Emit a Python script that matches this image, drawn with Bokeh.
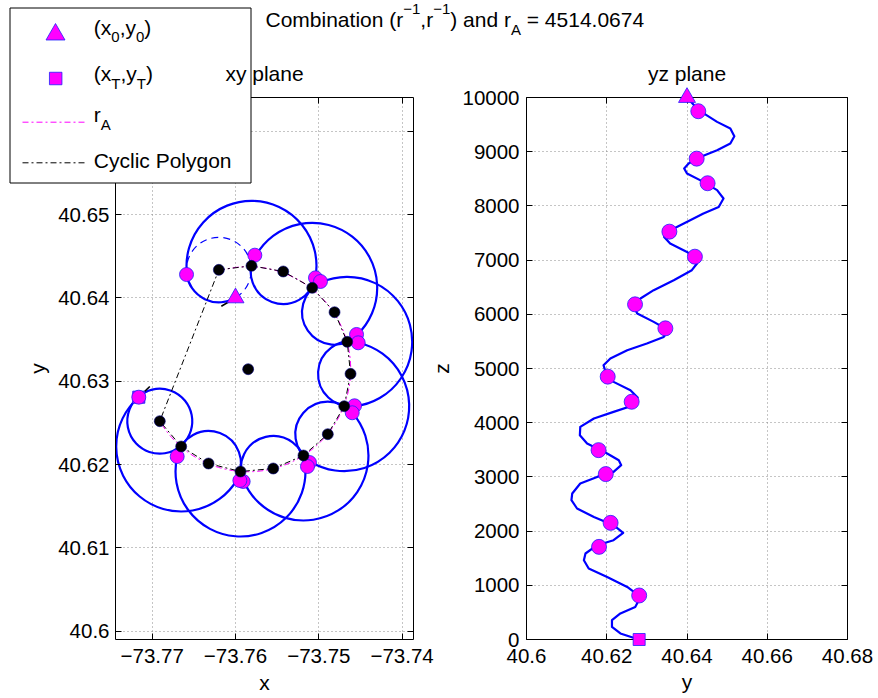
import math
from bokeh.plotting import figure
from bokeh.models import Range1d, FixedTicker, LinearAxis, Label, GridBox
from bokeh.embed import file_html
from bokeh.resources import INLINE

# ------------------------------------------------------------------ data
# cyclic polygon vertices (turn centres), xy plane
poly_lon = [-73.76200, -73.75808, -73.75427, -73.75079, -73.74811, -73.74659, -73.74619,
            -73.74695, -73.74892, -73.75184, -73.75547, -73.75940, -73.76324, -73.76652, -73.76909]
poly_lat = [40.64337, 40.64385, 40.64317, 40.64121, 40.63828, 40.63473, 40.63089,
            40.62700, 40.62364, 40.62108, 40.61952, 40.61916, 40.62012, 40.62216, 40.62520]
# centre and radius (deg) of the r_A circle
rA_lon, rA_lat, rA_radius = -73.75848, 40.63144, 0.01231
# turn radius around each polygon vertex (deg)
turn_radius = [0.0039, 0.0078] * 7 + [0.0039]
# way points (tangent points between turns)
way_lon = [-73.76588, -73.75040, -73.75768, -73.74547, -73.74980, -73.74571, -73.74527,
           -73.75112, -73.74599, -73.75908, -73.75136, -73.76700, -73.75948, -73.77161]
way_lat = [40.64281, 40.64241, 40.64513, 40.63561, 40.64197, 40.62705, 40.63461,
           40.62024, 40.62621, 40.61796, 40.61976, 40.62096, 40.61808, 40.62808]
way_alt = [9747, 8872, 8418, 7525, 7063, 6184, 5741, 4850, 4386, 3494, 3052, 2152, 1709, 812]
# start (x0,y0) and target (xT,yT)
start_lon, start_lat, start_alt = -73.7600, 40.6400, 10000
end_lon, end_lat, end_alt = -73.77161, 40.62808, 0
# heading stubs at start and target
head0_lon = [-73.7600, -73.7617]
head0_lat = [40.6400, 40.6390]
headT_lon = [-73.77161, -73.77029]
headT_lat = [40.62808, 40.62936]
# trajectory in the yz plane
traj_lat = [40.6400, 40.6429, 40.6475, 40.6508, 40.6518, 40.6508, 40.6475, 40.6433, 40.6404, 40.6393,
            40.6400, 40.6441, 40.6475, 40.6491, 40.6479, 40.6441, 40.6392, 40.6350, 40.6343, 40.6358,
            40.6400, 40.6421, 40.6425, 40.6412, 40.6367, 40.6317, 40.6284, 40.6266, 40.6276, 40.6317,
            40.6354, 40.6342, 40.6300, 40.6251, 40.6209, 40.6192, 40.6197, 40.6217, 40.6259, 40.6277,
            40.6267, 40.6217, 40.6168, 40.6134, 40.6133, 40.6151, 40.6201, 40.6230, 40.6236, 40.6217,
            40.6176, 40.6134, 40.6114, 40.6112, 40.6126, 40.6168, 40.6217, 40.6241, 40.6217, 40.6176,
            40.6147, 40.6143, 40.6155, 40.6201, 40.6251, 40.6284, 40.6271, 40.6234, 40.6213, 40.6213,
            40.6234, 40.6280]
traj_alt = [10000, 9766, 9550, 9428, 9286, 9151, 9028, 8904, 8782, 8690,
            8598, 8443, 8290, 8136, 7981, 7860, 7675, 7520, 7428, 7306,
            7151, 7029, 6937, 6814, 6629, 6445, 6291, 6168, 6015, 5860,
            5707, 5583, 5461, 5338, 5184, 5061, 4937, 4753, 4600, 4465,
            4323, 4199, 4077, 3922, 3769, 3616, 3432, 3308, 3216, 3092,
            3000, 2878, 2694, 2570, 2417, 2262, 2109, 1967, 1832, 1740,
            1587, 1463, 1310, 1155, 970, 786, 601, 480, 356, 232,
            111, 0]
# ticks
x1_ticks = [-73.77, -73.76, -73.75, -73.74]
x1_labels = ["\u221273.77", "\u221273.76", "\u221273.75", "\u221273.74"]
y1_ticks = [40.6, 40.61, 40.62, 40.63, 40.64, 40.65, 40.66]
y1_labels = ["40.6", "40.61", "40.62", "40.63", "40.64", "40.65", "40.66"]
x2_ticks = [40.6, 40.62, 40.64, 40.66, 40.68]
x2_labels = ["40.6", "40.62", "40.64", "40.66", "40.68"]
z_ticks = [0, 1000, 2000, 3000, 4000, 5000, 6000, 7000, 8000, 9000, 10000]
z_labels = [str(v) for v in z_ticks]
rA_value = "4514.0674"

# ------------------------------------------------------------------ layout / style
FONT = "Liberation Sans"
TICK_FS = 20.5
MAIN_FS = 21
SMALL_FS = 15
BASE_SHIFT = 0.38            # empirical baseline correction (fraction of font size)
MAGENTA = "#FF00FF"
EDGE = "#2020ff"
GRID = "#8a8a8a"
DASHDOT = "6 3 2 3"
W, H = 878, 698

W1 = 458                      # canvas width of the left figure
L1, FW1, TOP, FH = 115, 298, 97, 542
XR1 = (-73.774406, -73.738632)
YR1 = (40.598992, 40.664058)
L2, FW2 = 526, 321            # absolute frame left / width of the right figure
XR2 = (40.6, 40.68)
YR2 = (0, 10000)


def make_fig(xr, yr, fw, left, right):
    return figure(frame_width=fw, frame_height=FH, x_range=Range1d(*xr), y_range=Range1d(*yr),
                  min_border_left=left, min_border_right=right, min_border_top=TOP,
                  min_border_bottom=H - TOP - FH, toolbar_location=None, output_backend="svg",
                  background_fill_color="white", border_fill_color="white",
                  outline_line_color=None, frame_align=False)


def setup_axes(p, xt, xl, yt, yl, xstand, ystand):
    xtick = FixedTicker(ticks=xt, minor_ticks=[])
    ytick = FixedTicker(ticks=yt, minor_ticks=[])
    p.add_layout(LinearAxis(), "above")
    p.add_layout(LinearAxis(), "right")
    for ax in list(p.xaxis) + list(p.yaxis):
        ax.major_tick_in = 6
        ax.major_tick_out = 0
        ax.minor_tick_in = 0
        ax.minor_tick_out = 0
        ax.axis_line_color = "black"
        ax.axis_line_width = 1
        ax.major_tick_line_color = "black"
        ax.major_label_text_font = FONT
        ax.major_label_text_font_size = f"{TICK_FS}px"
        ax.major_label_text_color = "black"
    for ax in p.xaxis:
        ax.ticker = xtick
    for ax in p.yaxis:
        ax.ticker = ytick
    p.below[0].major_label_overrides = dict(zip(xt, xl))
    p.below[0].major_label_standoff = xstand
    p.left[0].major_label_overrides = dict(zip(yt, yl))
    p.left[0].major_label_standoff = ystand
    for ax, tk in ((p.above[0], xt), (p.right[0], yt)):
        ax.major_label_overrides = {t: "" for t in tk}
        ax.major_label_text_color = None
        ax.major_label_text_font_size = "1px"
        ax.major_label_standoff = 0
    p.xgrid.ticker = xtick
    p.ygrid.ticker = ytick
    for g in (p.xgrid, p.ygrid):
        g.grid_line_color = GRID
        g.grid_line_dash = "1 3"
        g.grid_line_width = 1


# ------------------------------------------------------------------ left: xy plane
p1 = make_fig(XR1, YR1, FW1, L1, W1 - L1 - FW1)
setup_axes(p1, x1_ticks, x1_labels, y1_ticks, y1_labels, 9, 6)

# turn arcs of the trajectory (clockwise, from entry point to exit point)
a_x, a_y, a_r, a_s, a_e = [], [], [], [], []
entry = [(start_lon, start_lat)] + list(zip(way_lon, way_lat))
exit_ = list(zip(way_lon, way_lat)) + [(way_lon[-1], way_lat[-1])]
for i in range(len(poly_lon)):
    cx, cy = poly_lon[i], poly_lat[i]
    s = math.atan2(entry[i][1] - cy, entry[i][0] - cx)
    e = math.atan2(exit_[i][1] - cy, exit_[i][0] - cx)
    if i == len(poly_lon) - 1:
        e = s + 1e-3
    a_x.append(cx); a_y.append(cy); a_r.append(turn_radius[i]); a_s.append(s); a_e.append(e)

# remainder of the first turn circle (dashed)
p1.arc(x=[a_x[0]], y=[a_y[0]], radius=[a_r[0]], start_angle=[a_e[0]], end_angle=[a_s[0]],
       direction="clock", line_color="blue", line_width=1.2, line_dash="7 5")
p1.arc(x=a_x, y=a_y, radius=a_r, start_angle=a_s, end_angle=a_e, direction="clock",
       line_color="blue", line_width=2.2)

# r_A circle arc
rs = math.atan2(poly_lat[0] - rA_lat, poly_lon[0] - rA_lon)
re_ = math.atan2(poly_lat[-1] - rA_lat, poly_lon[-1] - rA_lon)
p1.arc(x=[rA_lon], y=[rA_lat], radius=[rA_radius], start_angle=[rs], end_angle=[re_],
       direction="clock", line_color=MAGENTA, line_width=1, line_dash=DASHDOT)

# cyclic polygon
p1.line(poly_lon + [poly_lon[0]], poly_lat + [poly_lat[0]], line_color="black",
        line_width=1, line_dash=DASHDOT)
# heading stubs
p1.line(head0_lon, head0_lat, line_color="black", line_width=1.6)
p1.line(headT_lon, headT_lat, line_color="black", line_width=1.6)

p1.scatter([end_lon], [end_lat], marker="square", size=12, fill_color=MAGENTA, line_color=EDGE)
p1.scatter(way_lon, way_lat, marker="circle", size=14, fill_color=MAGENTA, line_color=EDGE,
           line_width=0.8)
p1.scatter(poly_lon + [rA_lon], poly_lat + [rA_lat], marker="circle", size=11,
           fill_color="black", line_color="#000080", line_width=0.6)
p1.scatter([start_lon], [start_lat], marker="triangle", size=17, fill_color=MAGENTA,
           line_color=EDGE, line_width=0.8)

# ------------------------------------------------------------------ right: yz plane
p2 = make_fig(XR2, YR2, FW2, L2 - W1, W - L2 - FW2)
setup_axes(p2, x2_ticks, x2_labels, z_ticks, z_labels, 9, 7)
p2.line(traj_lat, traj_alt, line_color="blue", line_width=2.2, line_join="round")
p2.scatter(way_lat, way_alt, marker="circle", size=15, fill_color=MAGENTA, line_color=EDGE,
           line_width=0.8)

# ------------------------------------------------------------------ overlay: texts + legend
ov = figure(frame_width=W, frame_height=H, x_range=Range1d(0, W), y_range=Range1d(H, 0),
            min_border=0, toolbar_location=None, output_backend="svg",
            x_axis_type=None, y_axis_type=None, outline_line_color=None,
            background_fill_color=None, border_fill_color=None, frame_align=False)
ov.xgrid.visible = False
ov.ygrid.visible = False
# yz-plane ranges spanning the whole overlay canvas (same scale as the right frame)
ov.extra_x_ranges = {"yz_y": Range1d(XR2[0] - L2 * (XR2[1] - XR2[0]) / FW2,
                                     XR2[0] + (W - L2) * (XR2[1] - XR2[0]) / FW2)}
ov.extra_y_ranges = {"yz_z": Range1d(YR2[1] - (H - TOP) * (YR2[1] - YR2[0]) / FH,
                                     YR2[1] + TOP * (YR2[1] - YR2[0]) / FH)}
# start / target markers of the yz plane (sit on the frame edges)
ov.scatter([start_lat], [start_alt], x_range_name="yz_y", y_range_name="yz_z",
           marker="triangle", size=17, fill_color=MAGENTA, line_color=EDGE, line_width=0.8)
ov.scatter([end_lat], [end_alt], x_range_name="yz_y", y_range_name="yz_z",
           marker="square", size=12, fill_color=MAGENTA, line_color=EDGE, line_width=0.8)

# legend
ov.quad(left=[9.5], right=[250.5], top=[7.5], bottom=[182.5], fill_color="white",
        line_color="black", line_width=1)
ov.scatter([55], [34], marker="triangle", size=19, fill_color=MAGENTA, line_color=EDGE,
           line_width=0.8)
ov.scatter([55.2], [78], marker="square", size=12.5, fill_color=MAGENTA, line_color=EDGE,
           line_width=0.8)
ov.line([22, 86], [121.7, 121.7], line_color=MAGENTA, line_width=1, line_dash=DASHDOT)
ov.line([22, 86], [162.3, 162.3], line_color="black", line_width=1, line_dash=DASHDOT)

ARIAL = {" ": 278, "(": 333, ")": 333, ",": 278, ".": 278, "=": 584, "\u2212": 584,
         "A": 667, "C": 722, "T": 611, "P": 667, "a": 556, "b": 556, "c": 500, "d": 556,
         "g": 556, "i": 222, "l": 222, "m": 833, "n": 556, "o": 556, "r": 333, "t": 278,
         "x": 500, "y": 500}


def tw(s, size):
    return sum(ARIAL.get(c, 556) for c in s) * size / 1000.0


def label(px, py, s, size, align="left", baseline="alphabetic", angle=0.0):
    if baseline == "alphabetic":
        py = py - BASE_SHIFT * size
    ov.add_layout(Label(x=px, y=py, text=s, text_font=FONT, text_font_size=f"{size}px",
                        text_align=align, text_baseline=baseline, angle=angle,
                        text_color="black"))


def run_pieces(pieces, x, base):
    for s, kind in pieces:
        size = MAIN_FS if kind == "main" else SMALL_FS
        dy = {"main": 0, "sup": -13, "sub": 8}[kind]
        lead = len(s) - len(s.lstrip(" "))
        x += tw(" " * lead, size)
        s = s.lstrip(" ")
        label(x, base + dy, s, size)
        x += tw(s, size)


legend_rows = [
    ([("(x", "main"), ("0", "sub"), (",y", "main"), ("0", "sub"), (")", "main")], 34.5),
    ([("(x", "main"), ("T", "sub"), (",y", "main"), ("T", "sub"), (")", "main")], 81),
    ([("r", "main"), ("A", "sub")], 121.5),
    ([("Cyclic Polygon", "main")], 168.3),
]
for pieces, base in legend_rows:
    run_pieces(pieces, 93.3, base)

title_pieces = [("Combination (r", "main"), ("\u22121", "sup"), (",r", "main"), ("\u22121", "sup"),
                (")", "main"), (" and r", "main"), ("A", "sub"), (" = " + rA_value, "main")]
run_pieces(title_pieces, 265, 26.7)

label(264, 80.5, "xy plane", MAIN_FS, align="center")
label(686.5, 80.5, "yz plane", MAIN_FS, align="center")
label(264, 690, "x", MAIN_FS, align="center")
label(686.5, 689, "y", MAIN_FS, align="center")
label(37, 368, "y", MAIN_FS, align="center", baseline="middle", angle=math.pi / 2)
label(441, 368, "z", MAIN_FS, align="center", baseline="middle", angle=math.pi / 2)

layout = GridBox(children=[(p1, 0, 0), (p2, 0, 1), (ov, 0, 0, 1, 2)], spacing=0)
open("out.html", "w").write(file_html(layout, INLINE))
